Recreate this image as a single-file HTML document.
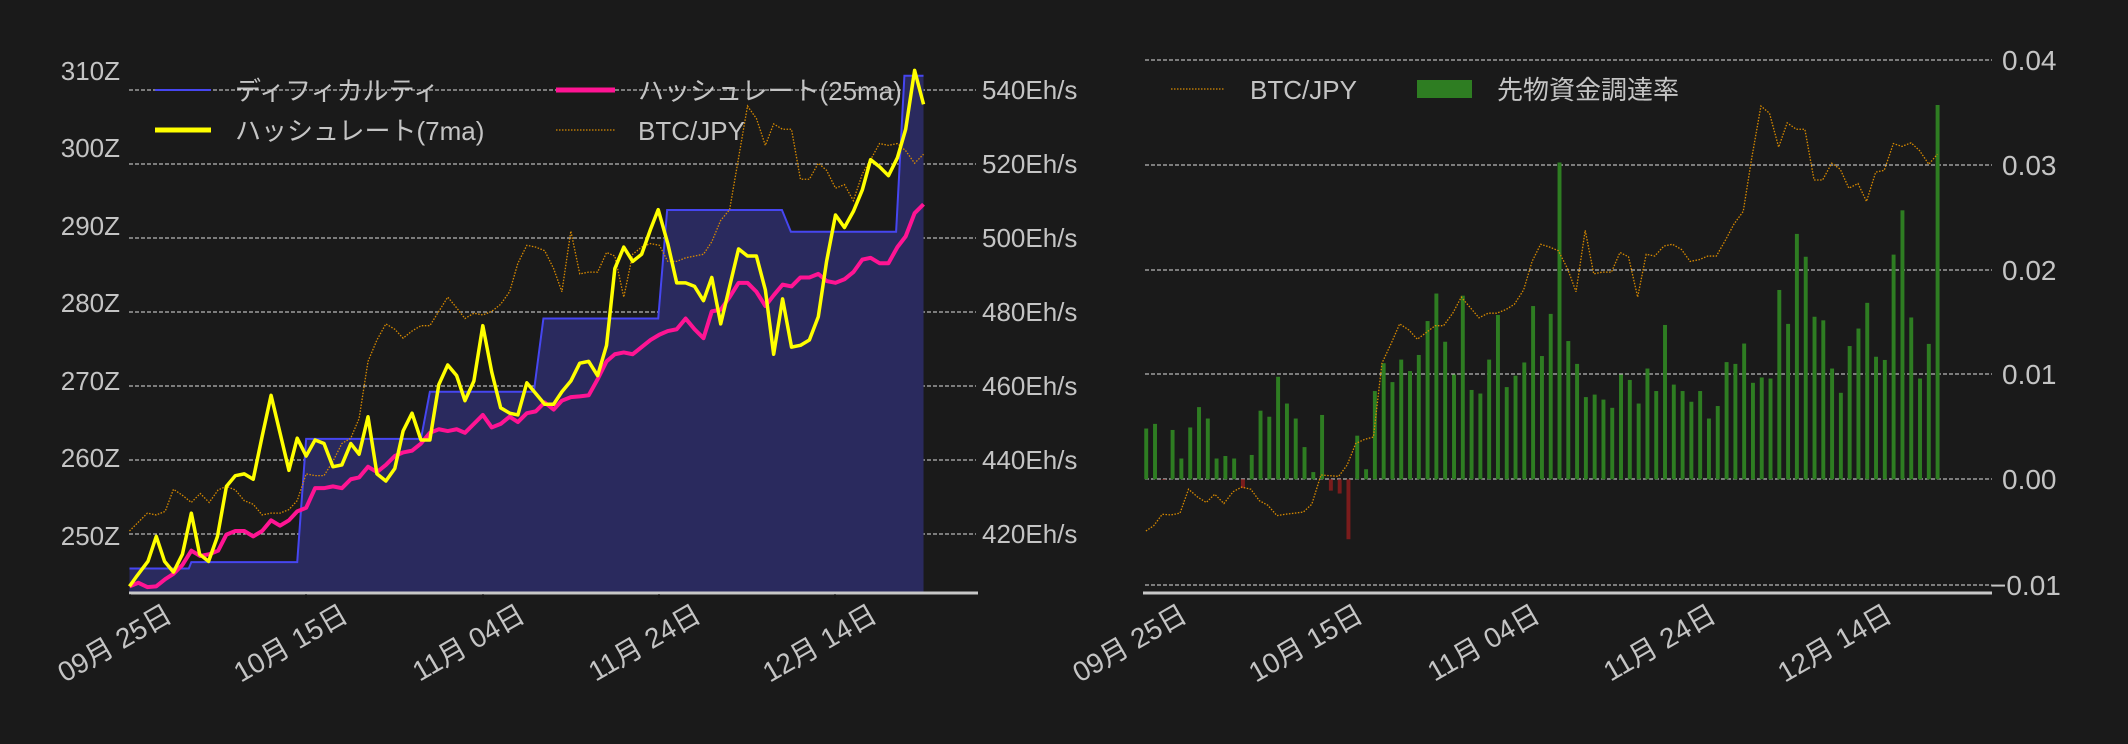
<!DOCTYPE html>
<html><head><meta charset="utf-8"><style>
html,body{margin:0;padding:0;background:#1a1a1a;}
svg{display:block;}
text{font-family:"Liberation Sans","Noto Sans CJK JP",sans-serif;fill:#c4c4c4;}
</style></head><body>
<svg width="2128" height="744" viewBox="0 0 2128 744" xmlns="http://www.w3.org/2000/svg">
<rect width="2128" height="744" fill="#1a1a1a"/>
<!-- LEFT CHART -->
<g stroke="#ddd" stroke-width="1" stroke-dasharray="4,2">
<line x1="129" x2="976" y1="90" y2="90"/><line x1="129" x2="976" y1="164" y2="164"/>
<line x1="129" x2="976" y1="238" y2="238"/><line x1="129" x2="976" y1="312" y2="312"/>
<line x1="129" x2="976" y1="386" y2="386"/><line x1="129" x2="976" y1="460" y2="460"/>
<line x1="129" x2="976" y1="534" y2="534"/>
</g>
<g transform="translate(0,40) scale(0.6378,0.3571)">
<path d="M203,1480 H296 L300,1462 H466 L480,1117 H660 L674,985 H837 L852,780 H1032 L1046,476 H1226 L1240,537 H1405 L1418,100 H1448 V1545 H203 Z" fill="#2a2a5e"/>
<path d="M203,1480 H296 L300,1462 H466 L480,1117 H660 L674,985 H837 L852,780 H1032 L1046,476 H1226 L1240,537 H1405 L1418,100 H1448" fill="none" stroke="#4646f0" stroke-width="2" vector-effect="non-scaling-stroke"/>
<polyline fill="none" stroke="#d88a00" stroke-width="1.3" stroke-dasharray="1.5,1.5" vector-effect="non-scaling-stroke" points="203,1375 217,1350 231,1325 245,1330 259,1320 272,1258 286,1275 300,1295 314,1270 328,1295 342,1260 355,1250 369,1260 383,1290 397,1300 411,1330 425,1325 439,1325 453,1315 466,1290 480,1215 494,1220 508,1220 522,1180 536,1130 550,1115 563,1060 577,900 591,840 605,795 619,810 632,835 646,815 660,800 674,800 688,760 702,720 716,750 729,780 743,765 757,770 771,760 785,740 799,705 812,625 826,575 840,580 854,590 868,640 881,705 895,535 909,655 923,650 937,650 951,595 964,605 978,720 992,600 1006,580 1020,570 1034,575 1047,620 1061,620 1075,610 1089,605 1103,600 1116,565 1130,505 1144,475 1158,330 1172,185 1186,220 1200,295 1213,235 1227,250 1241,250 1255,390 1269,390 1283,345 1296,365 1310,415 1324,405 1338,450 1352,375 1365,335 1379,290 1393,295 1407,290 1420,310 1434,345 1448,320"/>
<polyline fill="none" stroke="#ff1493" stroke-width="4" stroke-linejoin="round" vector-effect="non-scaling-stroke" points="203,1530 217,1520 231,1532 245,1530 259,1510 272,1495 286,1470 300,1430 314,1445 328,1440 342,1430 355,1385 369,1375 383,1375 397,1390 411,1375 425,1345 439,1360 453,1345 466,1320 480,1310 494,1255 508,1255 522,1250 536,1255 550,1230 563,1225 577,1195 591,1210 605,1190 619,1165 632,1155 646,1150 660,1130 674,1100 688,1090 702,1095 716,1090 729,1100 743,1075 757,1050 771,1085 785,1075 799,1055 812,1070 826,1045 840,1040 854,1015 868,1035 881,1010 895,1000 909,998 923,995 937,950 951,900 964,880 978,875 992,880 1006,860 1020,840 1034,825 1047,815 1061,810 1075,780 1089,810 1103,835 1116,760 1130,755 1144,720 1158,680 1172,680 1186,705 1200,745 1213,715 1227,685 1241,690 1255,665 1269,665 1283,655 1296,675 1310,680 1324,670 1338,650 1352,615 1365,610 1379,625 1393,625 1407,580 1420,550 1434,485 1448,460"/>
<polyline fill="none" stroke="#ffff00" stroke-width="3.5" stroke-linejoin="round" vector-effect="non-scaling-stroke" points="203,1530 215,1500 232,1460 245,1390 258,1460 272,1490 286,1440 300,1325 313,1440 327,1460 341,1390 355,1250 369,1220 383,1215 397,1230 411,1110 425,995 439,1100 453,1205 466,1115 480,1165 494,1120 508,1130 522,1195 536,1190 550,1130 563,1160 577,1055 591,1215 605,1235 619,1200 632,1095 646,1045 660,1120 674,1120 688,965 702,910 716,940 729,1010 743,955 757,800 771,930 785,1030 799,1045 812,1050 826,960 840,990 854,1020 868,1020 881,985 895,955 909,905 923,900 937,940 951,855 964,640 978,580 992,620 1006,600 1020,530 1032,475 1047,570 1061,680 1075,680 1089,690 1103,730 1116,665 1130,795 1144,690 1158,585 1172,605 1186,605 1200,700 1213,880 1227,725 1241,860 1255,855 1269,840 1283,775 1296,620 1310,490 1324,525 1338,480 1352,420 1365,335 1379,355 1393,380 1407,330 1420,250 1434,85 1448,180"/>
</g>
<line x1="129" x2="978" y1="593" y2="593" stroke="#c8c8c8" stroke-width="3"/>
<g stroke="#111" stroke-width="1"><line x1="130" x2="130" y1="594" y2="598"/><line x1="306" x2="306" y1="594" y2="598"/><line x1="483" x2="483" y1="594" y2="598"/><line x1="659" x2="659" y1="594" y2="598"/><line x1="835" x2="835" y1="594" y2="598"/></g>
<g font-size="26" text-anchor="end">
<text x="120" y="80">310Z</text><text x="120" y="157">300Z</text><text x="120" y="235">290Z</text><text x="120" y="312">280Z</text><text x="120" y="390">270Z</text><text x="120" y="467">260Z</text><text x="120" y="545">250Z</text>
</g>
<g font-size="26">
<text x="982" y="99">540Eh/s</text><text x="982" y="173">520Eh/s</text><text x="982" y="247">500Eh/s</text><text x="982" y="321">480Eh/s</text><text x="982" y="395">460Eh/s</text><text x="982" y="469">440Eh/s</text><text x="982" y="543">420Eh/s</text>
</g>
<!-- left legend -->
<line x1="155" x2="211" y1="90" y2="90" stroke="#4646f0" stroke-width="2"/>
<text x="235" y="100" font-size="26">ディフィカルティ</text>
<line x1="155" x2="211" y1="130" y2="130" stroke="#ffff00" stroke-width="5"/>
<text x="235" y="140" font-size="26">ハッシュレート(7ma)</text>
<line x1="556" x2="615" y1="90" y2="90" stroke="#ff1493" stroke-width="5"/>
<text x="638" y="100" font-size="26">ハッシュレート(25ma)</text>
<line x1="556" x2="615" y1="130" y2="130" stroke="#d88a00" stroke-width="1.3" stroke-dasharray="1.5,1.5"/>
<text x="638" y="140" font-size="26">BTC/JPY</text>
<g font-size="28" text-anchor="end">
<text transform="translate(174,620) rotate(-30)">09月 25日</text>
<text transform="translate(350,620) rotate(-30)">10月 15日</text>
<text transform="translate(527,620) rotate(-30)">11月 04日</text>
<text transform="translate(703,620) rotate(-30)">11月 24日</text>
<text transform="translate(879,620) rotate(-30)">12月 14日</text>
</g>
<!-- RIGHT CHART -->
<g stroke="#ddd" stroke-width="1" stroke-dasharray="4,2">
<line x1="1145" x2="1992" y1="60" y2="60"/><line x1="1145" x2="1992" y1="165" y2="165"/>
<line x1="1145" x2="1992" y1="270" y2="270"/><line x1="1145" x2="1992" y1="374" y2="374"/>
<line x1="1145" x2="1992" y1="479" y2="479"/><line x1="1145" x2="1992" y1="585" y2="585"/>
</g>
<g transform="translate(1100,40) scale(0.6557,0.3571)" id="bars"></g>
<g transform="translate(1100,40) scale(0.6557,0.3571)">
<polyline fill="none" stroke="#d88a00" stroke-width="1.3" stroke-dasharray="1.5,1.5" vector-effect="non-scaling-stroke" points="70,1375 82,1360 95,1328 108,1330 122,1325 135,1258 149,1280 162,1295 175,1272 189,1298 203,1265 216,1252 230,1258 243,1290 256,1303 270,1332 283,1328 297,1325 310,1322 323,1300 337,1218 350,1220 364,1222 377,1190 390,1130 404,1118 417,1112 430,905 444,850 457,795 471,812 484,838 497,820 511,800 524,800 538,765 551,720 565,750 578,778 592,765 605,765 619,755 632,740 646,700 659,620 672,572 686,580 699,590 713,640 726,705 740,533 753,655 766,650 780,650 793,595 806,607 820,720 833,600 846,605 860,577 873,572 887,587 900,620 914,615 927,605 940,605 954,560 967,515 981,480 994,330 1008,185 1021,205 1035,300 1048,232 1062,250 1075,250 1089,392 1102,392 1116,345 1129,362 1142,415 1156,402 1169,452 1183,370 1196,365 1210,290 1223,298 1237,288 1250,310 1264,348 1277,320"/>
</g>
<line x1="1143" x2="1992" y1="593" y2="593" stroke="#c8c8c8" stroke-width="3"/>
<g font-size="28">
<text x="2002" y="70">0.04</text><text x="2002" y="175">0.03</text><text x="2002" y="280">0.02</text><text x="2002" y="384">0.01</text><text x="2002" y="489">0.00</text><text x="1990" y="595">−0.01</text>
</g>
<line x1="1171" x2="1225" y1="89" y2="89" stroke="#d88a00" stroke-width="1.3" stroke-dasharray="1.5,1.5"/>
<text x="1250" y="99" font-size="26">BTC/JPY</text>
<rect x="1417" y="80" width="55" height="18" fill="#2e7d22"/>
<text x="1497" y="99" font-size="26">先物資金調達率</text>
<g font-size="28" text-anchor="end">
<text transform="translate(1189,620) rotate(-30)">09月 25日</text>
<text transform="translate(1365,620) rotate(-30)">10月 15日</text>
<text transform="translate(1542,620) rotate(-30)">11月 04日</text>
<text transform="translate(1718,620) rotate(-30)">11月 24日</text>
<text transform="translate(1894,620) rotate(-30)">12月 14日</text>
</g>
</svg>
<script>
var tops=[1088,1075,1232,1092,1172,1085,1028,1060,1172,1165,1172,1255,1162,1038,1055,943,1018,1060,1140,1210,1050,1262,1270,1398,1108,1202,983,905,958,895,927,882,787,710,845,937,716,980,990,895,770,972,940,903,745,885,767,343,843,907,1000,993,1007,1030,937,952,1018,920,983,798,965,983,1013,983,1060,1025,902,907,850,960,945,948,700,795,543,607,775,785,920,988,857,808,736,887,896,601,477,777,948,851,182];
var g=document.getElementById('bars'),s='';
for(var i=0;i<tops.length;i++){var x=70+13.41*i-2.5,t=tops[i];
var y=Math.min(t,1230),h=Math.abs(1230-t);if(h<1)h=1;
s+='<rect x="'+x.toFixed(1)+'" y="'+y+'" width="6" height="'+h+'" fill="'+(t>1230?'#7a1c1c':'#2e7d22')+'"/>';}
g.innerHTML=s;
</script>
</body></html>
